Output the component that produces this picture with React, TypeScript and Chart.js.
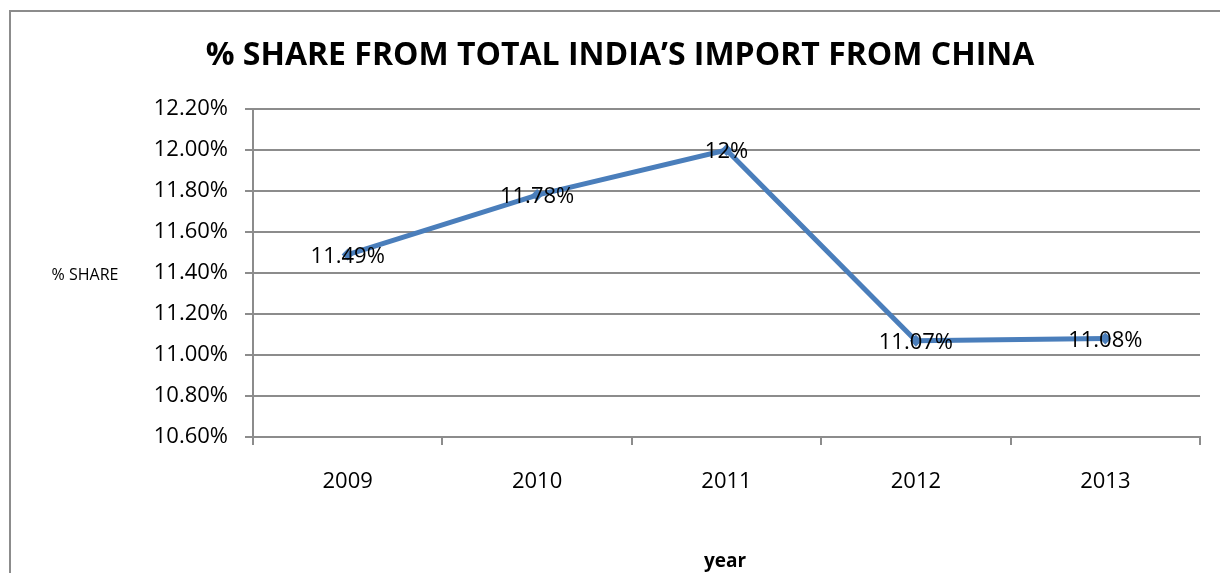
import React, { useEffect, useRef } from "react";
import { Chart, registerables } from "chart.js";

Chart.register(...registerables);

const categories = ["2009", "2010", "2011", "2012", "2013"];
const shareValues = [11.49, 11.78, 12.0, 11.07, 11.08];
const valueLabels = ["11.49%", "11.78%", "12%", "11.07%", "11.08%"];
const yMin = 10.6;
const yMax = 12.2;
const yStep = 0.2;

const FONT = "'Open Sans', sans-serif";

const decorPlugin = {
  id: "decor",
  beforeDraw(chart: any) {
    const ctx = chart.ctx;
    ctx.save();
    ctx.fillStyle = "#ffffff";
    ctx.fillRect(0, 0, chart.width, chart.height);
    ctx.strokeStyle = "#8c8c8c";
    ctx.lineWidth = 2;
    ctx.strokeRect(10, 11, chart.width + 20, chart.height + 20);
    ctx.restore();
  },
  afterDraw(chart: any) {
    const ctx = chart.ctx;
    ctx.save();
    ctx.fillStyle = "#000000";
    ctx.textAlign = "center";
    ctx.textBaseline = "middle";
    ctx.font = `bold 32px ${FONT}`;
    ctx.fillText("% SHARE FROM TOTAL INDIA\u2019S IMPORT FROM CHINA", 620, 56);
    ctx.font = `16px ${FONT}`;
    ctx.fillText("% SHARE", 85, 275);
    ctx.font = `bold 19px ${FONT}`;
    ctx.fillText("year", 725, 562);
    // data labels
    const meta = chart.getDatasetMeta(0);
    ctx.font = `22px ${FONT}`;
    meta.data.forEach((pt: any, i: number) => {
      ctx.fillText(valueLabels[i], pt.x, pt.y + 2);
    });
    ctx.restore();
  },
};

export default function App() {
  const ref = useRef<HTMLCanvasElement | null>(null);
  useEffect(() => {
    document.body.style.margin = "0";
    if (!ref.current) return;
    const chart = new Chart(ref.current, {
      type: "line",
      data: {
        labels: categories,
        datasets: [
          {
            data: shareValues,
            borderColor: "#4a7ebb",
            backgroundColor: "#4a7ebb",
            borderWidth: 5,
            pointStyle: "rectRot",
            pointRadius: 6,
            pointBorderWidth: 0,
            tension: 0,
          },
        ],
      },
      options: {
        responsive: false,
        animation: false,
        devicePixelRatio: 1,
        layout: { padding: { top: 109, right: 20, left: 0, bottom: 0 } },
        plugins: {
          legend: { display: false },
          tooltip: { enabled: false },
          title: { display: false },
        },
        scales: {
          x: {
            type: "category",
            offset: true,
            grid: {
              display: true,
              drawOnChartArea: false,
              drawTicks: true,
              tickLength: 8,
              color: "#8c8c8c",
              lineWidth: 2,
              offset: true,
            },
            border: { display: true, color: "#8c8c8c", width: 2 },
            ticks: {
              color: "#000",
              font: { family: FONT, size: 22 },
              padding: 24,
              maxRotation: 0,
            },
            afterFit(scale: any) {
              scale.height = 573 - 437;
            },
          },
          y: {
            min: yMin,
            max: yMax,
            grid: {
              color: "#8c8c8c",
              lineWidth: 2,
              tickLength: 8,
            },
            border: { display: true, color: "#8c8c8c", width: 2 },
            ticks: {
              stepSize: yStep,
              color: "#000",
              font: { family: FONT, size: 22 },
              padding: 17,
              callback: (v: any) => Number(v).toFixed(2) + "%",
            },
            afterFit(scale: any) {
              scale.width = 253;
            },
          },
        },
      },
      plugins: [decorPlugin],
    } as any);
    return () => chart.destroy();
  }, []);
  return (
    <div style={{ width: 1220, height: 573 }}>
      <canvas ref={ref} width={1220} height={573} style={{ display: "block" }} />
    </div>
  );
}
